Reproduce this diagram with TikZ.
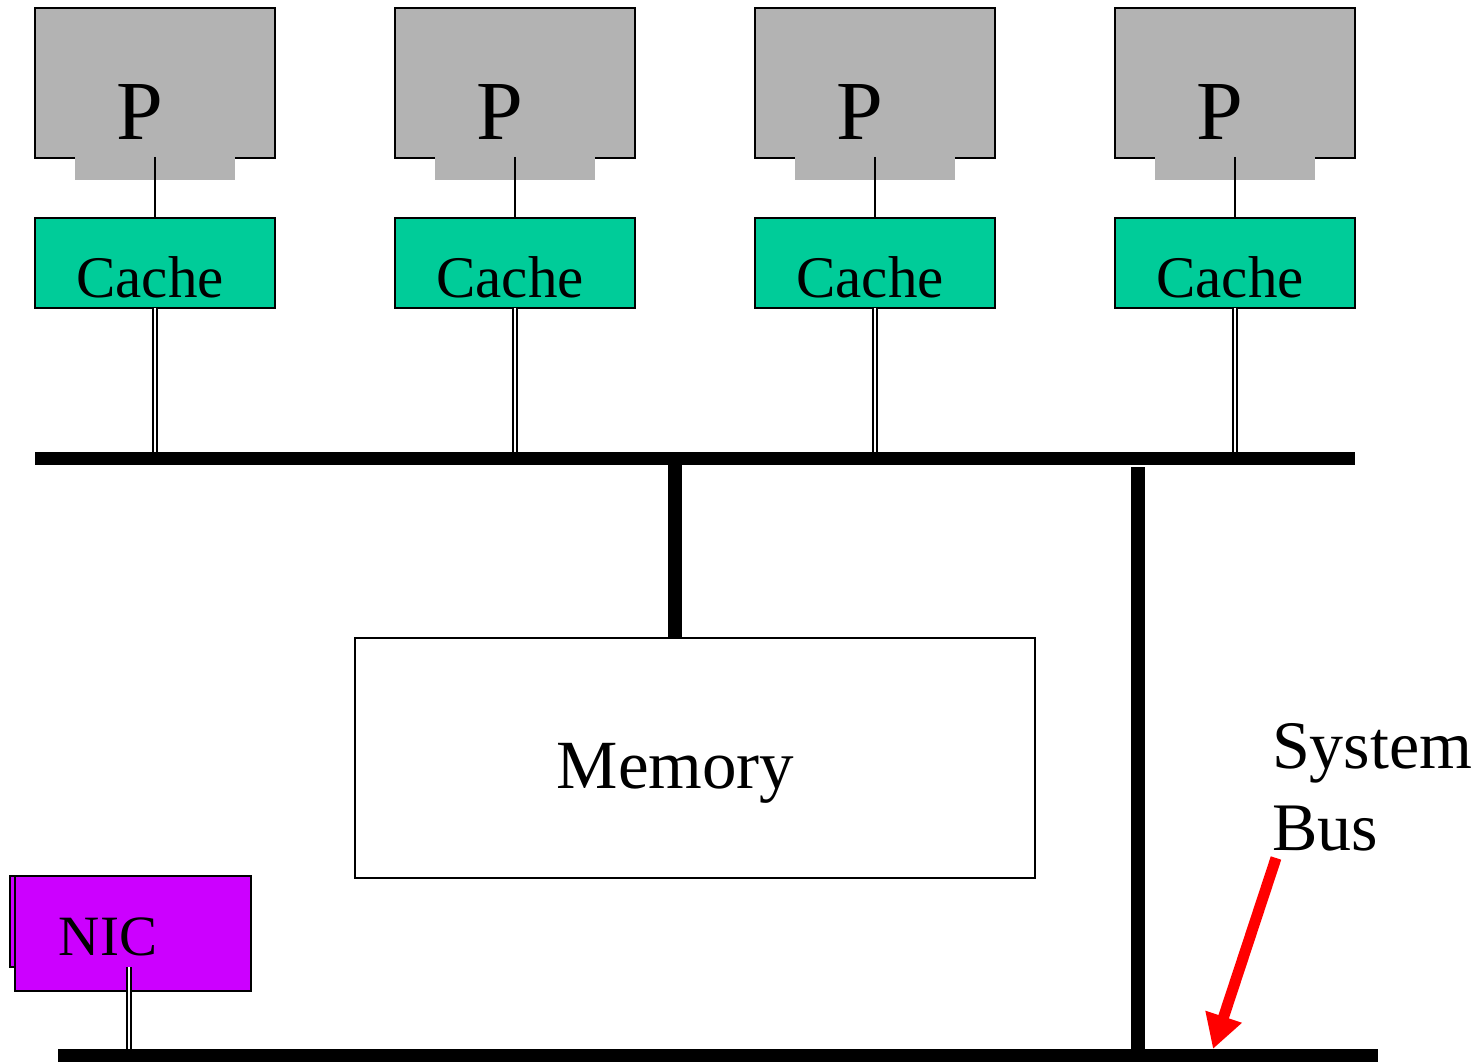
\documentclass[tikz,border=0pt]{standalone}
\usepackage{fontspec}
\setmainfont{Liberation Serif}
\usetikzlibrary{arrows.meta}

\definecolor{procgray}{HTML}{B3B3B3}
\definecolor{cachegreen}{HTML}{00CC99}
\definecolor{nicpurple}{HTML}{CC00FF}

\begin{document}
\begin{tikzpicture}[x=0.5pt,y=-0.5pt,cap=butt]
			% styles for the boxes and the links
			\tikzstyle{every node}=[inner sep=0pt,outer sep=0pt]
			\tikzstyle{procbox}=[draw,line width=1pt,fill=procgray,minimum width=120pt,minimum height=75pt]
			\tikzstyle{proctab}=[fill=procgray,minimum width=80pt,minimum height=11.5pt]
			\tikzstyle{cachebox}=[draw,line width=1pt,fill=cachegreen,minimum width=120pt,minimum height=45pt]
			\tikzstyle{busbar}=[fill=black,minimum width=660pt,minimum height=6.5pt]
			\tikzstyle{duallink}=[double,double distance=1.3pt,line width=0.75pt]
			\tikzstyle{thicklink}=[line width=7pt]

			% fix the page to the reference size
			\useasboundingbox (0,0) rectangle (1481,1063);

			% the two buses
			\node[busbar] (topbus) at (695,458.5) {};
			\node[busbar] (sysbus) at (718,1055.5) {};

			% processors with their caches
			% i: index, x: centre of the column
			\foreach \i / \x in {1/155, 2/515, 3/875, 4/1235} {
				\node[procbox] (p\i) at (\x,83) {};
				\node[proctab] (t\i) at (\x,168.5) {};
				\node[font=\fontsize{42}{46}\selectfont,anchor=base] (pl\i) at ([xshift=-7.5pt,yshift=-28.5pt]p\i.center) {P};
				\node[cachebox] (c\i) at (\x,263) {};
				\node[font=\fontsize{29.5}{33}\selectfont,anchor=base] (cl\i) at ([xshift=-2.5pt,yshift=-17.5pt]c\i.center) {Cache};
				% processor to cache, cache to bus
				\draw[line width=1pt] (t\i.north) -- (c\i.north);
				\draw[duallink] (c\i.south) -- (c\i.south |- topbus.north);
			}

			% memory on the top bus
			\node[draw,line width=1pt,fill=white,minimum width=340pt,minimum height=120pt] (mem) at (695,758) {};
			\node[font=\fontsize{34.5}{38}\selectfont,anchor=base] (meml) at ([xshift=-9.75pt,yshift=-15pt]mem.center) {Memory};
			\draw[thicklink] ([xshift=-10pt]mem.north) -- ([xshift=-10pt]mem.north |- topbus.south);

			% bridge between the two buses
			\draw[thicklink] ([xshift=221.5pt,yshift=-1pt]topbus.south) -- ([xshift=221.5pt]topbus.south |- sysbus.north);

			% network card on the system bus
			\node[draw,line width=1pt,fill=nicpurple,minimum width=119pt,minimum height=45.5pt] (nicback) at (129,921.5) {};
			\node[draw,line width=1pt,fill=nicpurple,minimum width=118pt,minimum height=57.5pt] (nic) at (133,933.5) {};
			\node[font=\fontsize{28.5}{32}\selectfont,anchor=base] (nicl) at ([xshift=-12.5pt,yshift=-11pt]nic.center) {NIC};
			\draw[duallink] (nicback.south) -- (nicback.south |- sysbus.north);

			% label with its arrow
			\node[font=\fontsize{34}{41}\selectfont,align=left,anchor=base west] (buslabel) at (1272,850) {System\\Bus};
			\coordinate (arrtail) at (1276,858);
			\coordinate (arrtip) at (1213,1049);
			\draw[red,line width=5.5pt,-{Triangle[width=18pt,length=17pt]}] (arrtail) -- (arrtip);
		\end{tikzpicture}
\end{document}
